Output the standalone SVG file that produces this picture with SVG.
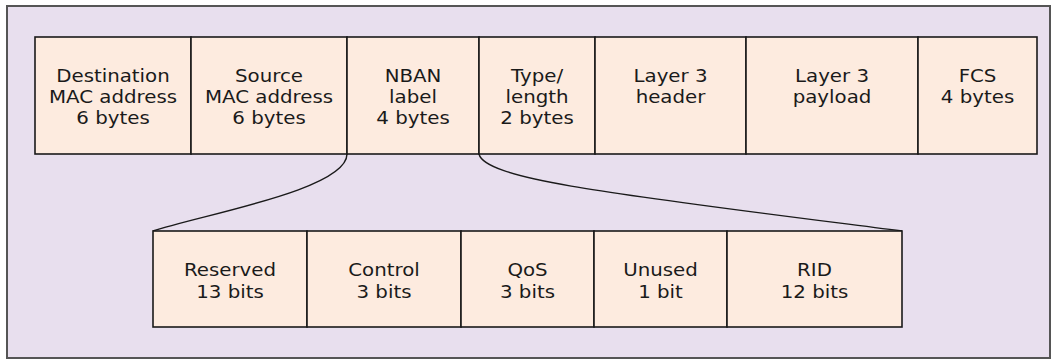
<svg xmlns="http://www.w3.org/2000/svg" width="1057" height="360" viewBox="0 0 1057 360">
<style>
.frame{fill:#e8dfee;stroke:#555;stroke-width:2}
.box{fill:#fdebdf;stroke:#1a1a1a;stroke-width:1.6}
.t{font-family:"DejaVu Sans","Open Sans",sans-serif;font-size:18px;fill:#1a1a1a;text-anchor:middle}
.c{fill:none;stroke:#1a1a1a;stroke-width:1.4}
</style>
<rect class="frame" x="7" y="6" width="1043" height="352"/>
<g id="top-frame">
<g id="dest"><rect class="box" x="35" y="37" width="156" height="117"/><text class="t" transform="translate(113,0) scale(1.1,1)" x="0" y="82">Destination<tspan x="0" dy="21">MAC address</tspan><tspan x="0" dy="21">6 bytes</tspan></text></g>
<g id="src"><rect class="box" x="191" y="37" width="156" height="117"/><text class="t" transform="translate(269,0) scale(1.1,1)" x="0" y="82">Source<tspan x="0" dy="21">MAC address</tspan><tspan x="0" dy="21">6 bytes</tspan></text></g>
<g id="nban"><rect class="box" x="347" y="37" width="132" height="117"/><text class="t" transform="translate(413,0) scale(1.1,1)" x="0" y="82">NBAN<tspan x="0" dy="21">label</tspan><tspan x="0" dy="21">4 bytes</tspan></text></g>
<g id="type"><rect class="box" x="479" y="37" width="116" height="117"/><text class="t" transform="translate(537,0) scale(1.1,1)" x="0" y="82">Type/<tspan x="0" dy="21">length</tspan><tspan x="0" dy="21">2 bytes</tspan></text></g>
<g id="l3h"><rect class="box" x="595" y="37" width="151" height="117"/><text class="t" transform="translate(670.5,0) scale(1.1,1)" x="0" y="82">Layer 3<tspan x="0" dy="21">header</tspan></text></g>
<g id="l3p"><rect class="box" x="746" y="37" width="172" height="117"/><text class="t" transform="translate(832,0) scale(1.1,1)" x="0" y="82">Layer 3<tspan x="0" dy="21">payload</tspan></text></g>
<g id="fcs"><rect class="box" x="918" y="37" width="119" height="117"/><text class="t" transform="translate(977.5,0) scale(1.1,1)" x="0" y="82">FCS<tspan x="0" dy="21">4 bytes</tspan></text></g>
</g>
<g id="connectors">
<path class="c" d="M347,154 C347,190 200,215 153,231"/>
<path class="c" d="M479,154 C485,180 620,195 902,231"/>
</g>
<g id="label-frame">
<g id="reserved"><rect class="box" x="153" y="231" width="154" height="96"/><text class="t" transform="translate(230,0) scale(1.1,1)" x="0" y="276">Reserved<tspan x="0" dy="22">13 bits</tspan></text></g>
<g id="control"><rect class="box" x="307" y="231" width="154" height="96"/><text class="t" transform="translate(384,0) scale(1.1,1)" x="0" y="276">Control<tspan x="0" dy="22">3 bits</tspan></text></g>
<g id="qos"><rect class="box" x="461" y="231" width="133" height="96"/><text class="t" transform="translate(527.5,0) scale(1.1,1)" x="0" y="276">QoS<tspan x="0" dy="22">3 bits</tspan></text></g>
<g id="unused"><rect class="box" x="594" y="231" width="133" height="96"/><text class="t" transform="translate(660.5,0) scale(1.1,1)" x="0" y="276">Unused<tspan x="0" dy="22">1 bit</tspan></text></g>
<g id="rid"><rect class="box" x="727" y="231" width="175" height="96"/><text class="t" transform="translate(814.5,0) scale(1.1,1)" x="0" y="276">RID<tspan x="0" dy="22">12 bits</tspan></text></g>
</g>
</svg>
